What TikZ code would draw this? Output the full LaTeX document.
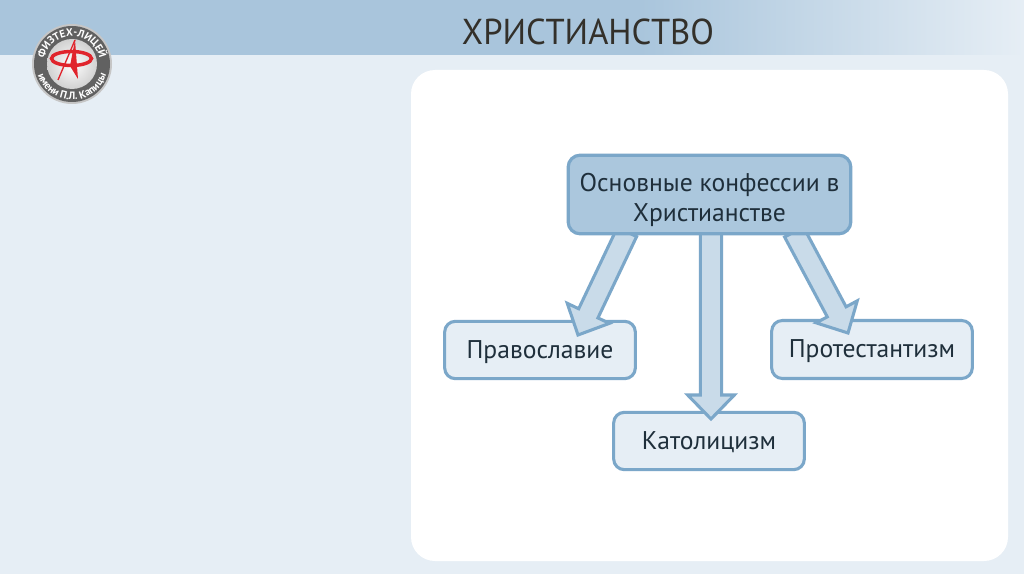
\documentclass[tikz,border=0pt]{standalone}
\usepackage{fontspec}
\setmainfont{PT Sans}
\usetikzlibrary{calc,decorations.text}
\definecolor{bgpale}{HTML}{E6EEF5}
\definecolor{band}{HTML}{A9C5DC}
\definecolor{edgeblue}{HTML}{7BA7C9}
\definecolor{mainfill}{HTML}{ABC7DD}
\definecolor{arrowfill}{HTML}{C9DBE9}
\definecolor{inkdark}{HTML}{1F2F3B}
\definecolor{titleink}{HTML}{33302A}
\definecolor{logored}{HTML}{E0242C}
\tikzset{
  basebox/.style={draw=edgeblue,line width=2.3pt,fill=bgpale,rounded corners=8pt,text=inkdark,font=\fontsize{19.2}{22.5}\selectfont,align=center,inner sep=0pt},
  childbox/.style={basebox,text height=16pt,text depth=4pt},
  mainbox/.style={basebox,fill=mainfill,rounded corners=9pt,line width=2.4pt},
  blockarrow/.style={draw=edgeblue,line width=2.3pt,fill=arrowfill,line join=miter,miter limit=3},
}
\newcommand{\blockarr}[2]{%
  \coordinate (hb) at ($(#2)!18pt!(#1)$);
  \draw[blockarrow]
    ($(#1)!8pt!90:(#2)$) -- ($(hb)!8pt!90:(#2)$) -- ($(hb)!17.5pt!90:(#2)$)
    -- (#2) -- ($(hb)!17.5pt!-90:(#2)$) -- ($(hb)!8pt!-90:(#2)$)
    -- ($(#1)!8pt!-90:(#2)$) -- cycle;
}
\begin{document}
\begin{tikzpicture}[x=0.75pt,y=-0.75pt]
\useasboundingbox (0,0) rectangle (1024,574);
\fill[bgpale] (0,0) rectangle (1024,574);
\fill[band] (0,0) rectangle (640,55);
\shade[left color=band,right color=bgpale] (640,0) rectangle (1024,55);
\node[text=titleink,font=\fontsize{27}{30}\selectfont] (title) at (588,32) {\scalebox{0.96}[1]{ХРИСТИАНСТВО}};
\fill[white,rounded corners=18pt] (411,70) rectangle (1008,561);

% logo
\fill[gray!45] (72,64) circle (40);
\fill[black!62] (72,64) circle (38);
\shade[inner color=white,outer color=black!18] (72,64) circle (25);
\path[postaction={decorate,decoration={text along path,text align=center,
  text={|\fontsize{8}{9}\bfseries\color{white}|ФИЗТЕХ-ЛИЦЕЙ}}}]
  (44,64) arc[start angle=180,end angle=360,radius=28];
\path[postaction={decorate,decoration={text along path,text align=center,
  text={|\fontsize{8}{9}\bfseries\color{white}|имени П.Л. Капицы}}}]
  (36,64) arc[start angle=180,end angle=0,radius=36];
\draw[logored,line width=2.6pt] (71.5,58.5) ellipse [x radius=20,y radius=7];
\fill[logored] (75,40) -- (78,79) -- (70,66) -- cycle;
\draw[logored,line width=1pt] (75,40) -- (58,80);

\coordinate (s1) at (627,232);
\coordinate (t1) at (578,335);
\coordinate (s2) at (711,232);
\coordinate (t2) at (711,419);
\coordinate (s3) at (794,232);
\coordinate (t3) at (848,333);

\node[childbox,minimum width=143pt,minimum height=43pt] (a) at (540,350) {Православие};
\node[childbox,minimum width=150.5pt,minimum height=43.5pt] (c) at (872,349.5) {Протестантизм};
\node[childbox,minimum width=143pt,minimum height=43pt] (b) at (709,441) {Католицизм};

\blockarr{s1}{t1}
\blockarr{s2}{t2}
\blockarr{s3}{t3}

\node[mainbox,minimum width=212pt,minimum height=59pt] (m) at (709.5,194.5) {\rule{0pt}{22pt}Основные конфессии в\\Христианстве};
\end{tikzpicture}
\end{document}
